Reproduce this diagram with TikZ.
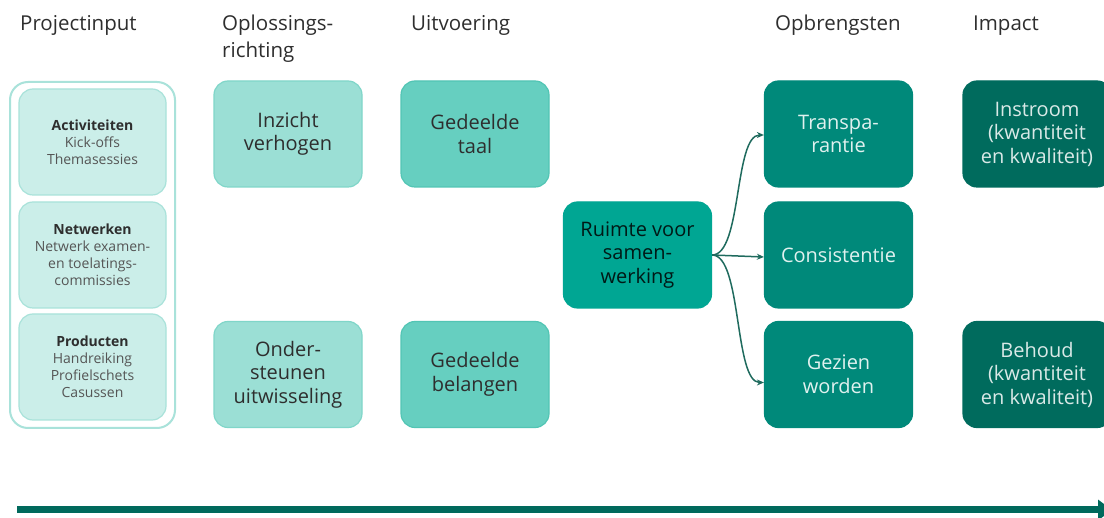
\documentclass[tikz,border=0pt]{standalone}
\usepackage{fontspec}
\setmainfont{Open Sans}
\usetikzlibrary{arrows.meta}
\definecolor{cOuter}{HTML}{A9E2DA}
\definecolor{cInF}{HTML}{CBEEE9}
\definecolor{cInD}{HTML}{A9E2DA}
\definecolor{cOplF}{HTML}{9BDFD5}
\definecolor{cOplD}{HTML}{80D6C9}
\definecolor{cUitF}{HTML}{66CFC0}
\definecolor{cUitD}{HTML}{52C5B4}
\definecolor{cRui}{HTML}{00A693}
\definecolor{cOpb}{HTML}{00897A}
\definecolor{cImp}{HTML}{006B5D}
\definecolor{cArr}{HTML}{1F6B5E}
\definecolor{cBar}{HTML}{00695C}
\definecolor{cTxt}{HTML}{2E2E2E}
\definecolor{cSub}{HTML}{555555}
\tikzset{
  heading/.style={anchor=base west, inner sep=0pt, font=\fontsize{20.5}{27}\selectfont, text=cTxt, align=left},
  bigbox/.style={rounded corners=14pt, minimum width=148pt, minimum height=106pt, align=center, font=\fontsize{20}{23.5}\selectfont, line width=1.2pt, inner sep=0pt},
  inbox/.style={rounded corners=14pt, minimum width=147pt, minimum height=106pt, align=center, font=\fontsize{14}{17}\selectfont, fill=cInF, draw=cInD, line width=1.2pt, text=cSub, inner sep=0pt},
  opl/.style={bigbox, fill=cOplF, draw=cOplD, text=cTxt},
  uit/.style={bigbox, fill=cUitF, draw=cUitD, text=cTxt},
  rui/.style={bigbox, fill=cRui, draw=cRui, text=black!85!cRui},
  opb/.style={bigbox, fill=cOpb, draw=cOpb, text=white!88!cOpb},
  imp/.style={bigbox, fill=cImp, draw=cImp, text=white!85!cImp},
  conn/.style={draw=cArr, line width=1.5pt, -{Stealth[length=7pt,width=6pt]}}
}
\begin{document}
\begin{tikzpicture}[x=1pt,y=-1pt]
\useasboundingbox[fill=white] (0,0) rectangle (1104,518);
% headings
\node[heading] (h1) at (20,31) {Projectinput};
\node[heading] (h2) at (222,58) {Oplossings-\\richting};
\node[heading] (h3) at (411,31) {Uitvoering};
\node[heading] (h4) at (775,31) {Opbrengsten};
\node[heading] (h5) at (973,31) {Impact};
% project input container
\node[draw=cOuter, line width=2pt, rounded corners=18pt, minimum width=165pt, minimum height=346pt, inner sep=0pt] (outer) at (92.5,255) {};
\node[inbox] (act) at (92.5,142) {{\bfseries\color{cTxt}Activiteiten}\\Kick-offs\\Themasessies};
\node[inbox] (net) at (92.5,255) {{\bfseries\color{cTxt}Netwerken}\\Netwerk examen-\\en toelatings-\\commissies};
\node[inbox] (pro) at (92.5,367) {{\bfseries\color{cTxt}Producten}\\Handreiking\\Profielschets\\Casussen};
% oplossingsrichting
\node[opl] (inz) at (288,134) {Inzicht\\verhogen};
\node[opl] (ond) at (288,374.5) {Onder-\\steunen\\uitwisseling};
% uitvoering
\node[uit] (taal) at (475,134) {Gedeelde\\taal};
\node[uit] (bel) at (475,374.5) {Gedeelde\\belangen};
% ruimte
\node[rui] (rui) at (637.5,255) {Ruimte voor\\samen-\\werking};
% opbrengsten
\node[opb] (tra) at (838.5,134) {Transpa-\\rantie};
\node[opb] (con) at (838.5,255) {Consistentie};
\node[opb] (gez) at (838.5,374.5) {Gezien\\worden};
% impact
\node[imp] (ins) at (1037,134) {Instroom\\(kwantiteit\\en kwaliteit)};
\node[imp] (beh) at (1037,374.5) {Behoud\\(kwantiteit\\en kwaliteit)};
% connectors
\draw[conn] (rui.east) .. controls +(30,0) and +(-30,0) .. ([yshift=-1pt]tra.west);
\draw[conn] (rui.east) -- ([yshift=-2pt]con.west);
\draw[conn] (rui.east) .. controls +(30,0) and +(-30,0) .. ([yshift=-8pt]gez.west);
% time arrow
\coordinate (ta) at (17,510);
\coordinate (tb) at (1112,510);
\draw[draw=cBar, line width=7pt, -{Triangle[length=14pt,width=20pt]}] (ta) -- (tb);
\end{tikzpicture}
\end{document}
